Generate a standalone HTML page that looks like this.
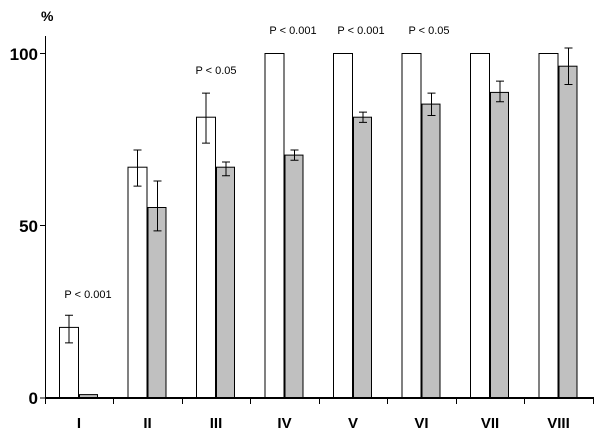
<!DOCTYPE html><html><head><style>body{margin:0;background:#fff}svg text{font-family:"Liberation Sans",Arial,sans-serif}</style></head><body>
<svg width="600" height="438" xmlns="http://www.w3.org/2000/svg">
<g stroke="#000" stroke-width="1">
<rect x="59.5" y="327.4" width="19" height="70.6" fill="#fff"/><rect x="79.5" y="394.6" width="18" height="3.4" fill="#c0c0c0"/>
<rect x="128" y="167.2" width="19" height="230.8" fill="#fff"/><rect x="148" y="207.5" width="18" height="190.5" fill="#c0c0c0"/>
<rect x="196.5" y="117.2" width="19" height="280.8" fill="#fff"/><rect x="216.5" y="167.2" width="18" height="230.8" fill="#c0c0c0"/>
<rect x="265" y="53.5" width="19" height="344.5" fill="#fff"/><rect x="285" y="155.1" width="18" height="242.9" fill="#c0c0c0"/>
<rect x="333.5" y="53.5" width="19" height="344.5" fill="#fff"/><rect x="353.5" y="117.2" width="18" height="280.8" fill="#c0c0c0"/>
<rect x="402" y="53.5" width="19" height="344.5" fill="#fff"/><rect x="422" y="104.1" width="18" height="293.9" fill="#c0c0c0"/>
<rect x="470.5" y="53.5" width="19" height="344.5" fill="#fff"/><rect x="490.5" y="92.4" width="18" height="305.6" fill="#c0c0c0"/>
<rect x="539" y="53.5" width="19" height="344.5" fill="#fff"/><rect x="559" y="66.2" width="18" height="331.8" fill="#c0c0c0"/>
<path fill="none" d="
M69 342.9V315.3M65 342.9h8M65 315.3h8
M137.5 186.1V150M133.5 186.1h8M133.5 150h8
M157.5 230.9V181M153.5 230.9h8M153.5 181h8
M206 143.1V93.1M202 143.1h8M202 93.1h8
M226 175.8V162M222 175.8h8M222 162h8
M294.5 160.3V150M290.5 160.3h8M290.5 150h8
M363 122.4V112.1M359 122.4h8M359 112.1h8
M431.5 115.5V93.1M427.5 115.5h8M427.5 93.1h8
M500 101.7V81.1M496 101.7h8M496 81.1h8
M568.5 84.5V48M564.5 84.5h8M564.5 48h8"/>
<line x1="45.5" y1="36" x2="45.5" y2="398"/>
<line x1="40" y1="53.5" x2="45" y2="53.5"/><line x1="40" y1="225.5" x2="45" y2="225.5"/><line x1="40" y1="398" x2="45" y2="398"/>
<path d="M45.5 398v6M113.5 398v6M182.5 398v6M250.5 398v6M319.5 398v6M387.5 398v6M456.5 398v6M524.5 398v6M593.5 398v6"/>
</g>
<line x1="45" y1="398" x2="594" y2="398" stroke="#000" stroke-width="2"/>
<text x="41" y="21" font-size="14" font-weight="bold">%</text>
<g font-size="17" font-weight="bold" text-anchor="end">
<text x="38" y="60">100</text><text x="38" y="232">50</text><text x="38" y="404">0</text></g>
<g font-size="11" text-anchor="middle">
<text x="88" y="298">P &lt; 0.001</text><text x="216" y="74">P &lt; 0.05</text>
<text x="293" y="34">P &lt; 0.001</text><text x="361" y="34">P &lt; 0.001</text><text x="429" y="34">P &lt; 0.05</text></g>
<g font-size="15" font-weight="bold" text-anchor="middle">
<text x="79" y="428">I</text><text x="147.5" y="428">II</text><text x="216" y="428">III</text><text x="284.5" y="428">IV</text><text x="353" y="428">V</text><text x="421.5" y="428">VI</text><text x="490" y="428">VII</text><text x="558.5" y="428">VIII</text></g>
</svg></body></html>
